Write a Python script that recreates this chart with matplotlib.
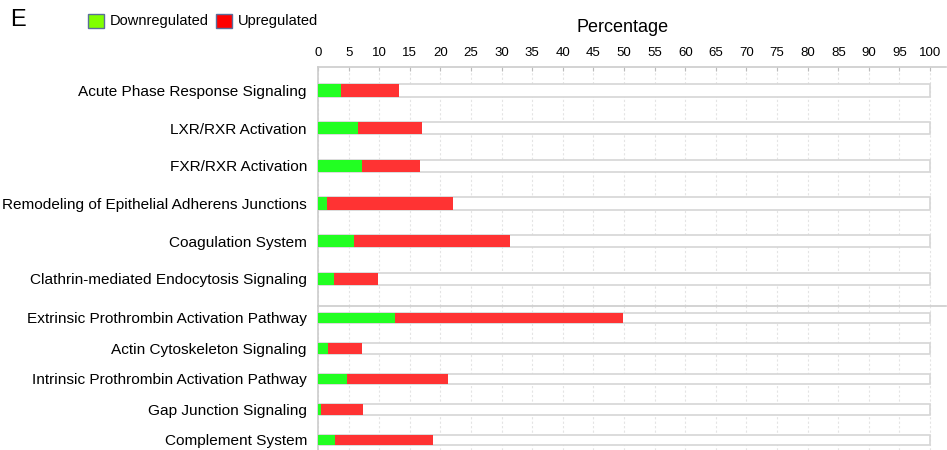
import numpy as np
import matplotlib
matplotlib.use("Agg")
import matplotlib.pyplot as plt
from matplotlib.patches import Patch

plt.rcParams['font.family'] = ['Liberation Sans', 'DejaVu Sans']

# upper block of pathways
top_paths = ["Acute Phase Response Signaling", "LXR/RXR Activation", "FXR/RXR Activation",
             "Remodeling of Epithelial Adherens Junctions", "Coagulation System",
             "Clathrin-mediated Endocytosis Signaling"]
top_down = [3.7, 6.5, 7.2, 1.4, 5.8, 2.6]
top_up = [9.6, 10.5, 9.4, 20.6, 25.6, 7.2]

# lower block of pathways
bot_paths = ["Extrinsic Prothrombin Activation Pathway", "Actin Cytoskeleton Signaling",
             "Intrinsic Prothrombin Activation Pathway", "Gap Junction Signaling",
             "Complement System"]
bot_down = [12.5, 1.6, 4.8, 0.5, 2.7]
bot_up = [37.4, 5.6, 16.5, 6.9, 16.1]

xticks = np.arange(0, 101, 5)

green = '#22ff22'
red = '#ff3333'
edge = '#d6d6d6'

W, H = 947, 450
fig = plt.figure(figsize=(W/100, H/100), dpi=100)

left = 318/W
width = (946-318)/W
ax1 = fig.add_axes([left, (H-306)/H, width, (306-67)/H])
ax2 = fig.add_axes([left, 0, width, (H-306)/H])


def draw(ax, names, down, up, h):
    y = np.arange(len(names))
    ax.barh(y, [100]*len(names), height=h, color='white', edgecolor=edge, linewidth=1.2, zorder=2)
    ax.barh(y, down, height=h, color=green, linewidth=0, zorder=3)
    ax.barh(y, up, left=down, height=h, color=red, linewidth=0, zorder=3)
    ax.set_yticks(y)
    ax.set_yticklabels(names, fontsize=11.1)
    ax.tick_params(axis='y', length=0, pad=8)
    ax.set_xlim(0, 102.6)
    ax.set_xticks(xticks)
    ax.grid(axis='x', linestyle=(0, (2, 2)), color='#e4e4e4', linewidth=0.8, zorder=0)
    ax.set_axisbelow(True)
    for s in ['right', 'bottom']:
        ax.spines[s].set_visible(False)
    for s in ['left', 'top']:
        ax.spines[s].set_color('#cccccc')
        ax.spines[s].set_linewidth(1.2)


draw(ax1, top_paths, top_down, top_up, 0.33)
ax1.set_ylim(5.72, -0.62)
ax1.xaxis.tick_top()
ax1.tick_params(axis='x', direction='in', length=3, color='#bbbbbb', labelsize=9.5, pad=6)

draw(ax2, bot_paths, bot_down, bot_up, 0.35)
ax2.set_ylim(4.33, -0.39)
ax2.tick_params(axis='x', length=0, labeltop=False, labelbottom=False, top=False, bottom=False)

fig.text(623/W, 1-28/H, "Percentage", ha='center', va='center', fontsize=13)
fig.text(10/W, 1-20/H, "E", ha='left', va='center', fontsize=17)

handles = [Patch(facecolor='#80ff00', edgecolor='#5a6e9a', label='Downregulated'),
           Patch(facecolor='#ff0000', edgecolor='#5a6e9a', label='Upregulated')]
fig.legend(handles=handles, loc='center left', bbox_to_anchor=(82/W, 1-21/H), ncol=2,
           frameon=False, fontsize=10.5, handlelength=1.1, handleheight=1.1,
           columnspacing=0.5, handletextpad=0.4, borderaxespad=0)

fig.savefig("out.png", dpi=100)
